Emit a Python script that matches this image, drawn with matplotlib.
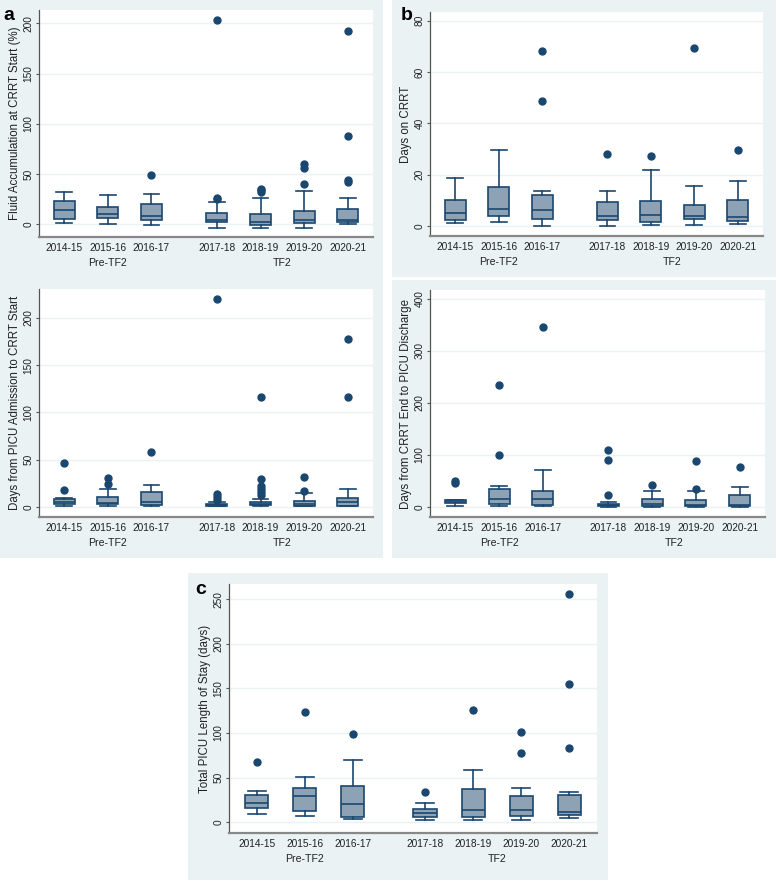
import matplotlib
matplotlib.use("Agg")
import matplotlib.pyplot as plt
from matplotlib.patches import Rectangle

plt.rcParams['font.family'] = ['Liberation Sans', 'DejaVu Sans']

# data: one row per season -> (lower whisker, q1, median, q3, upper whisker)
years = ['2014-15', '2015-16', '2016-17', '2017-18', '2018-19', '2019-20', '2020-21']
positions = [0, 1, 2, 3.5, 4.5, 5.5, 6.5]
groups = ['Pre-TF2', 'TF2']
group_x = [1, 5.0]

fluid_box = [(1.0, 5.6, 13.9, 22.9, 32.2), (0.0, 6.0, 10.3, 17.6, 29.2),
             (-1.0, 4.0, 8.6, 20.2, 30.2), (-4.0, 2.0, 4.3, 10.9, 22.6),
             (-3.3, -0.3, 2.3, 10.6, 26.5), (-3.3, 1.3, 4.0, 13.6, 33.5),
             (0.0, 2.3, 4.3, 14.9, 26.5)]
fluid_out = [[], [], [48.8], [203, 26, 25], [35.5, 34.2, 32.5],
             [60.0, 55.7, 39.8], [192, 87.9, 44.1, 42.1]]

crrt_box = [(1.0, 2.2, 4.9, 10.1, 18.6), (1.4, 4.0, 6.5, 15.1, 29.7),
            (0.0, 2.9, 6.1, 11.9, 13.6), (0.0, 2.2, 3.9, 9.5, 13.5),
            (0.4, 1.6, 4.2, 9.6, 21.8), (0.3, 2.7, 3.9, 8.1, 15.7),
            (0.8, 1.8, 3.6, 10.1, 17.5)]
crrt_out = [[], [], [68.3, 48.8], [27.9], [27.4], [69.4], [29.7]]

adm_box = [(1.0, 2.8, 5.6, 8.5, 9.2), (1.0, 2.8, 3.9, 10.2, 19.4),
           (1.0, 1.8, 5.6, 16.2, 22.9), (1.0, 1.4, 2.1, 3.2, 5.3),
           (0.7, 2.1, 3.5, 5.3, 8.1), (1.0, 1.4, 3.2, 6.3, 14.8),
           (0.7, 1.4, 5.3, 9.5, 18.7)]
adm_out = [[46.9, 18.0], [31.0, 24.7], [58.5], [220, 13.4, 10.6, 7.4],
           [116.4, 29.3, 22.6, 19.0, 15.9, 12.7], [32.1, 16.9], [178.1, 116.4]]

dis_box = [(1.9, 7.1, 10.3, 12.8, 14.1), (1.3, 5.8, 14.7, 34.0, 39.7),
           (1.3, 3.2, 16.0, 30.8, 71.8), (0.6, 1.3, 3.2, 5.1, 9.0),
           (0.0, 2.6, 5.1, 16.0, 30.1), (0.6, 1.3, 3.2, 13.5, 31.4),
           (0.6, 1.3, 3.2, 22.4, 37.8)]
dis_out = [[50.6, 46.8], [234, 100], [346], [110, 91, 23.1], [42.3],
           [88.5, 34.0], [77.6]]

los_box = [(9.0, 16.4, 21.7, 30.3, 34.8), (6.7, 12.3, 29.1, 38.1, 50.8),
           (3.7, 6.4, 20.9, 41.1, 69.5), (2.2, 5.6, 10.5, 14.6, 21.7),
           (2.2, 6.4, 13.8, 37.0, 58.7), (2.2, 7.5, 13.5, 29.1, 38.5),
           (4.9, 7.8, 12.0, 30.6, 33.6)]
los_out = [[68], [123.7], [98.7], [33.6], [126], [100.9, 77.7],
           [255.6, 154.7, 83.7]]

W, H = 776, 880
BG = '#eaf2f3'
NAVY = '#1a476f'
FILL = '#8ea2b6'
TXT = '#222222'

fig = plt.figure(figsize=(W / 100, H / 100), dpi=100)


def background(x0, y0, x1, y1):
    fig.patches.append(Rectangle((x0 / W, 1 - y1 / H), (x1 - x0) / W, (y1 - y0) / H,
                                 transform=fig.transFigure, facecolor=BG,
                                 edgecolor='none', zorder=-5))


def panel(box, out, ylabel, yticks, ylim, rect):
    x0, y0, x1, y1 = rect
    ax = fig.add_axes([x0 / W, 1 - y1 / H, (x1 - x0) / W, (y1 - y0) / H])
    ax.set_zorder(2)
    stats = []
    for (lo, q1, med, q3, hi), fl in zip(box, out):
        stats.append(dict(whislo=lo, q1=q1, med=med, q3=q3, whishi=hi, fliers=fl))
    ax.bxp(stats, positions=positions, widths=0.48, capwidths=0.36,
           patch_artist=True, showfliers=True,
           boxprops=dict(facecolor=FILL, edgecolor=NAVY, linewidth=1.2),
           medianprops=dict(color=NAVY, linewidth=1.2),
           whiskerprops=dict(color=NAVY, linewidth=1.2),
           capprops=dict(color=NAVY, linewidth=1.2),
           flierprops=dict(marker='o', markerfacecolor=NAVY, markeredgecolor=NAVY,
                           markersize=5, linestyle='none'))
    ax.set_xlim(-0.58, 7.08)
    ax.set_ylim(*ylim)
    ax.set_yticks(yticks)
    ax.set_xticks(positions)
    ax.set_xticklabels(years, fontsize=7.3, color=TXT)
    ax.tick_params(axis='x', length=0, pad=4.3)
    ax.tick_params(axis='y', length=2.5, width=0.8, color='#555555', pad=1.5,
                   labelsize=7.3, labelcolor=TXT, labelrotation=90)
    plt.setp(ax.get_yticklabels(), va='center')
    ax.yaxis.grid(True, color=BG, linewidth=1.0)
    ax.set_axisbelow(True)
    for s in ['top', 'right']:
        ax.spines[s].set_visible(False)
    ax.spines['left'].set_color('#555555')
    ax.spines['left'].set_linewidth(0.9)
    ax.spines['bottom'].set_color('#888888')
    ax.spines['bottom'].set_linewidth(1.6)
    ax.set_ylabel(ylabel, fontsize=8.3, color=TXT, labelpad=1.5)
    for g, gx in zip(groups, group_x):
        ax.annotate(g, xy=(gx, 0), xycoords=('data', 'axes fraction'),
                    xytext=(0, -19), textcoords='offset points',
                    ha='center', va='center', fontsize=7.6, color=TXT)
    return ax


background(0, 0, 383, 288)
background(0, 288, 383, 558)
background(392, 0, 776, 277)
background(392, 280, 776, 558)
background(188, 573, 608, 880)

panel(fluid_box, fluid_out, 'Fluid Accumulation at CRRT Start (%)',
      [0, 50, 100, 150, 200], (-12.6, 213.2), (39, 10, 373, 237))
panel(crrt_box, crrt_out, 'Days on CRRT',
      [0, 20, 40, 60, 80], (-3.9, 83.4), (430, 12, 763, 236))
panel(adm_box, adm_out, 'Days from PICU Admission to CRRT Start',
      [0, 50, 100, 150, 200], (-10.6, 230.7), (39, 289, 373, 517))
panel(dis_box, dis_out, 'Days from CRRT End to PICU Discharge',
      [0, 100, 200, 300, 400], (-19.2, 417), (430, 290, 765, 517))
panel(los_box, los_out, 'Total PICU Length of Stay (days)',
      [0, 50, 100, 150, 200, 250], (-12, 267), (229, 584, 597, 833))

for lbl, x, y in [('a', 3, 20), ('b', 401, 20), ('c', 195, 594)]:
    fig.text(x / W, 1 - y / H, lbl, fontsize=14, fontweight='bold', color='black',
             ha='left', va='baseline', zorder=5)

fig.savefig('out.png', dpi=100, facecolor='white')
